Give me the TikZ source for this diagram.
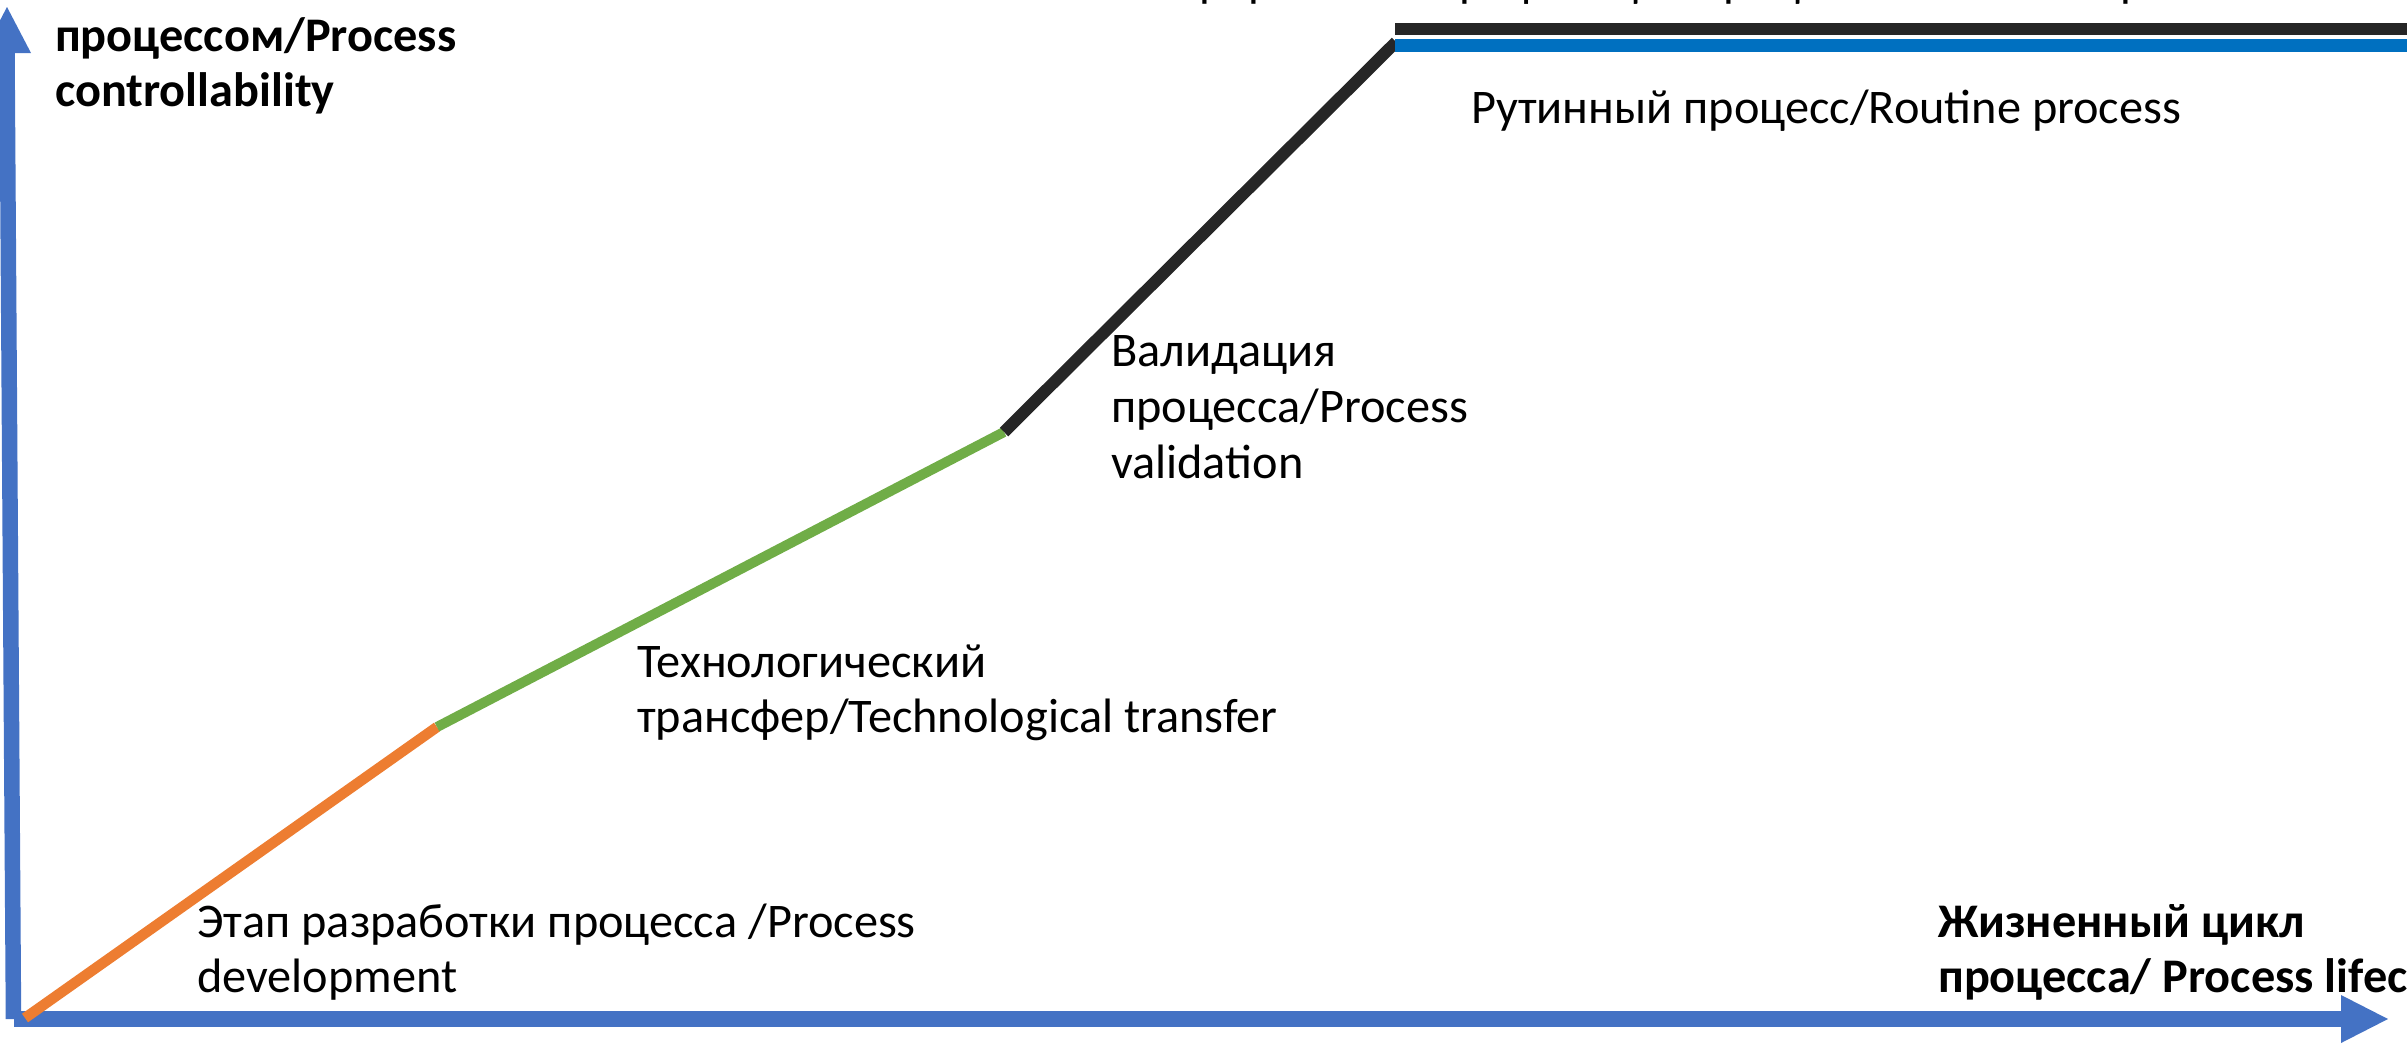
\documentclass[tikz,border=0pt]{standalone}
\usepackage{fontspec}
\setmainfont{Carlito}
\definecolor{axisblue}{HTML}{4472C4}
\definecolor{devorange}{HTML}{ED7D31}
\definecolor{transgreen}{HTML}{70AD47}
\definecolor{valblack}{HTML}{262626}
\definecolor{routblue}{HTML}{0070C0}
\begin{document}
\begin{tikzpicture}[x=1pt,y=-1pt,
  lbl/.style={anchor=base west,inner sep=0pt,font=\fontsize{48.3}{56}\selectfont},
  ttl/.style={anchor=base west,inner sep=0pt,font=\fontsize{48.3}{55}\selectfont\bfseries},
  axisline/.style={draw=axisblue,line width=15.5pt},
  axishead/.style={fill=axisblue},
  seg/.style={line width=10.5pt,line cap=butt}]
\useasboundingbox (0,0) rectangle (2407,1044);
\clip (0,0) rectangle (2407,1044);
% axes
\coordinate (ybot) at (13.5,1019);
\coordinate (ybase) at (7,53);
\coordinate (ytip) at (7,7);
\coordinate (xstart) at (14,1019);
\coordinate (xbase) at (2342,1019);
\coordinate (xtip) at (2388,1019);
\draw[axisline] (ybot) -- (ybase);
\fill[axishead] (ytip) -- (-17,53) -- (31,53) -- cycle;
\draw[axisline] (xstart) -- (xbase);
\fill[axishead] (xtip) -- (2341,995) -- (2341,1043) -- cycle;
% curve points
\coordinate (o) at (25,1018);
\coordinate (a) at (437,727);
\coordinate (b) at (1004,432);
\coordinate (c) at (1396,42);
\coordinate (k1) at (1395,29);
\coordinate (k2) at (2410,29);
\coordinate (r1) at (1395,45.5);
\coordinate (r2) at (2410,45.5);
\draw[seg,devorange] (o) -- (a);
\draw[seg,transgreen,line width=10pt] (a) -- (b);
\draw[seg,valblack,line width=12pt] (b) -- (c);
\draw[valblack,line width=12pt] (k1) -- (k2);
\draw[routblue,line width=13pt] (r1) -- (r2);
% labels
\node[ttl] (yt0) at (55,-7) {Управляемость};
\node[ttl] (yt1) at (55,51) {процессом/Process};
\node[ttl] (yt2) at (55,106) {controllability};
\node[lbl] (cpv) at (1120,-3) {Непрерывная верификация процесса/Continued process verification};
\node[lbl] (rout) at (1471,123) {Рутинный процесс/Routine process};
\node[lbl] (val1) at (1111,366) {Валидация};
\node[lbl] (val2) at (1111,422) {процесса/Process};
\node[lbl] (val3) at (1111,478) {validation};
\node[lbl] (tt1) at (637,677) {Технологический};
\node[lbl] (tt2) at (637,732) {трансфер/Technological transfer};
\node[lbl] (dev1) at (197,937) {Этап разработки процесса /Process};
\node[lbl] (dev2) at (197,992) {development};
\node[ttl] (xt1) at (1938,937) {Жизненный цикл};
\node[ttl] (xt2) at (1938,992) {процесса/ Process lifecycle};
\end{tikzpicture}
\end{document}
